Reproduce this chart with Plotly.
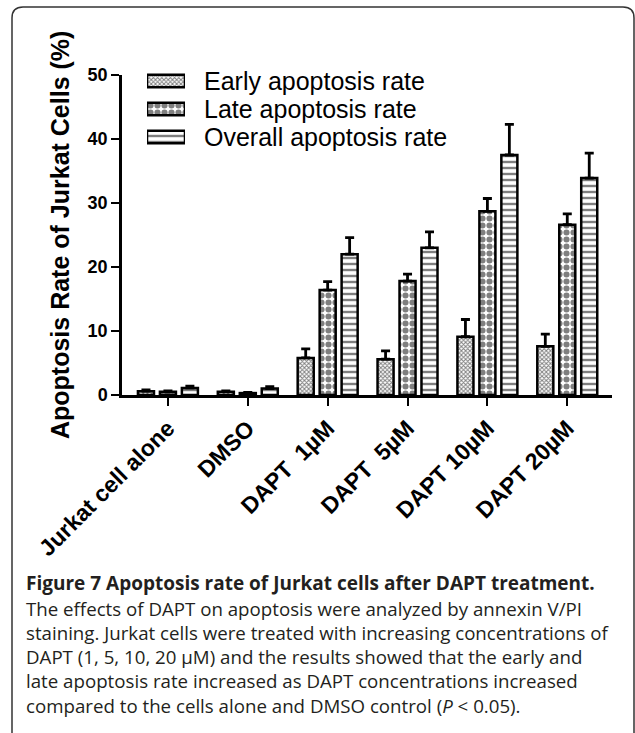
import plotly.graph_objects as go

# ---------------- data ----------------
categories = ["Jurkat cell alone", "DMSO", "DAPT\u00a0 1µM", "DAPT\u00a0 5µM", "DAPT 10µM", "DAPT 20µM"]
series_names = ["Early apoptosis rate", "Late apoptosis rate", "Overall apoptosis rate"]
early = [0.6, 0.5, 5.8, 5.6, 9.1, 7.6]
early_err = [0.2, 0.15, 1.4, 1.3, 2.7, 1.9]
late = [0.5, 0.3, 16.4, 17.8, 28.7, 26.6]
late_err = [0.15, 0.1, 1.3, 1.1, 2.0, 1.7]
overall = [1.1, 1.0, 22.0, 23.0, 37.5, 33.9]
overall_err = [0.3, 0.3, 2.6, 2.5, 4.8, 3.9]
y_ticks = [0, 10, 20, 30, 40, 50]
legend_swatch_len = [1, 1, 1]

y_title = "Apoptosis Rate of Jurkat Cells (%)"
caption_title = "Figure 7 Apoptosis rate of Jurkat cells after DAPT treatment."
caption_lines = [
    "The effects of DAPT on apoptosis were analyzed by annexin V/PI",
    "staining. Jurkat cells were treated with increasing concentrations of",
    "DAPT (1, 5, 10, 20 μM) and the results showed that the early and",
    "late apoptosis rate increased as DAPT concentrations increased",
    "compared to the cells alone and DMSO control (<i>P</i> &lt; 0.05).",
]

# ---------------- geometry helpers ----------------
W, H = 635, 733
L, R, T, B = 122, 23, 40, 338
PW, PH = W - L - R, H - T - B
AXIS_Y0 = H - B  # pixel row of the x axis


def px_x(p):
    return (p - L) / PW


def px_y(p):
    return (AXIS_Y0 - p) / PH


AX_FONT = "Liberation Sans, Arial, sans-serif"
CAP_FONT = "Open Sans, Noto Sans, sans-serif"

patterns = [
    dict(shape="x", size=3, solidity=0.55, fgcolor="black", bgcolor="white"),
    dict(shape=".", size=7, solidity=0.6, fgcolor="black", bgcolor="white"),
    dict(shape="-", size=6, solidity=0.4, fgcolor="black", bgcolor="white"),
]
values = [early, late, overall]
errors = [early_err, late_err, overall_err]

fig = go.Figure()
for name, vals, errs, pat in zip(series_names, values, errors, patterns):
    fig.add_trace(go.Bar(
        x=categories, y=vals, name=name, showlegend=False,
        marker=dict(color="white", pattern=pat, line=dict(color="black", width=2.5)),
        error_y=dict(type="data", array=errs, arrayminus=[0] * len(errs), symmetric=False,
                     color="black", thickness=2.8, width=4.5),
    ))

# legend swatches drawn as a small horizontal bar chart
fig.add_trace(go.Bar(
    x=legend_swatch_len, y=series_names, orientation="h", xaxis="x2", yaxis="y2",
    width=[0.45] * 3, showlegend=False, hoverinfo="skip", cliponaxis=False,
    marker=dict(color="white", line=dict(color="black", width=2.5),
                pattern=dict(shape=[p["shape"] for p in patterns],
                             size=[p["size"] for p in patterns],
                             solidity=[p["solidity"] for p in patterns],
                             fgcolor="black", bgcolor="white")),
))
for i, name in enumerate(series_names):
    fig.add_annotation(xref="paper", yref="paper", x=px_x(202), y=px_y(81 + 28 * i), text=name,
                       showarrow=False, xanchor="left", yanchor="middle",
                       font=dict(family=AX_FONT, size=25, color="black"))

fig.update_layout(
    width=W, height=H,
    margin=dict(l=L, r=R, t=T, b=B, pad=0),
    paper_bgcolor="white", plot_bgcolor="white",
    barmode="group", bargap=0.175, bargroupgap=0.27,
    showlegend=False,
    xaxis=dict(range=[-0.575, 5.56], showline=True, linecolor="black", linewidth=2.5,
               ticks="outside", ticklen=8, tickwidth=2, tickcolor="black",
               tickangle=-45, tickfont=dict(family=AX_FONT, size=23, color="black", weight="bold"),
               showgrid=False, zeroline=False, fixedrange=True),
    yaxis=dict(range=[0, 50], domain=[0, px_y(75)], tickvals=y_ticks, showline=True,
               linecolor="black", linewidth=2.5,
               ticks="outside", ticklen=8, tickwidth=2, tickcolor="black",
               tickfont=dict(family=AX_FONT, size=18, color="black", weight="bold"),
               showgrid=False, zeroline=False, fixedrange=True),
    xaxis2=dict(domain=[px_x(147), px_x(185)], range=[0, 1], anchor="y2", visible=False,
                fixedrange=True),
    yaxis2=dict(domain=[px_y(151), px_y(67)], range=[2.5, -0.5], anchor="x2", visible=False,
                type="category", categoryorder="array", categoryarray=series_names,
                fixedrange=True),
)

# y-axis title
fig.add_annotation(xref="paper", yref="paper", x=px_x(60), y=px_y(235), text=y_title,
                   textangle=-90, showarrow=False, xanchor="center", yanchor="middle",
                   font=dict(family=AX_FONT, size=25, color="black", weight="bold"))

# caption
fig.add_annotation(xref="paper", yref="paper", x=px_x(24), y=px_y(583), text="<b>" + caption_title + "</b>",
                   showarrow=False, xanchor="left", yanchor="middle",
                   font=dict(family=CAP_FONT, size=19, color="#231f20"))
for i, line in enumerate(caption_lines):
    fig.add_annotation(xref="paper", yref="paper", x=px_x(24), y=px_y(608 + i * 24.3), text=line,
                       showarrow=False, xanchor="left", yanchor="middle",
                       font=dict(family=CAP_FONT, size=18.7, color="#231f20"))

# rounded frame (top and left edges visible)
x0, x1, yt, yb, r = px_x(12), px_x(634), px_y(7), px_y(740), 11
path = (f"M {x0},{yb} L {x0},{px_y(7 + r)} Q {x0},{yt} {px_x(12 + r)},{yt} "
        f"L {px_x(634 - r)},{yt} Q {x1},{yt} {x1},{px_y(7 + r)} L {x1},{yb}")
fig.add_shape(type="path", xref="paper", yref="paper", path=path,
              line=dict(color="#333333", width=1.5), layer="above")

fig.write_html("out.html")
